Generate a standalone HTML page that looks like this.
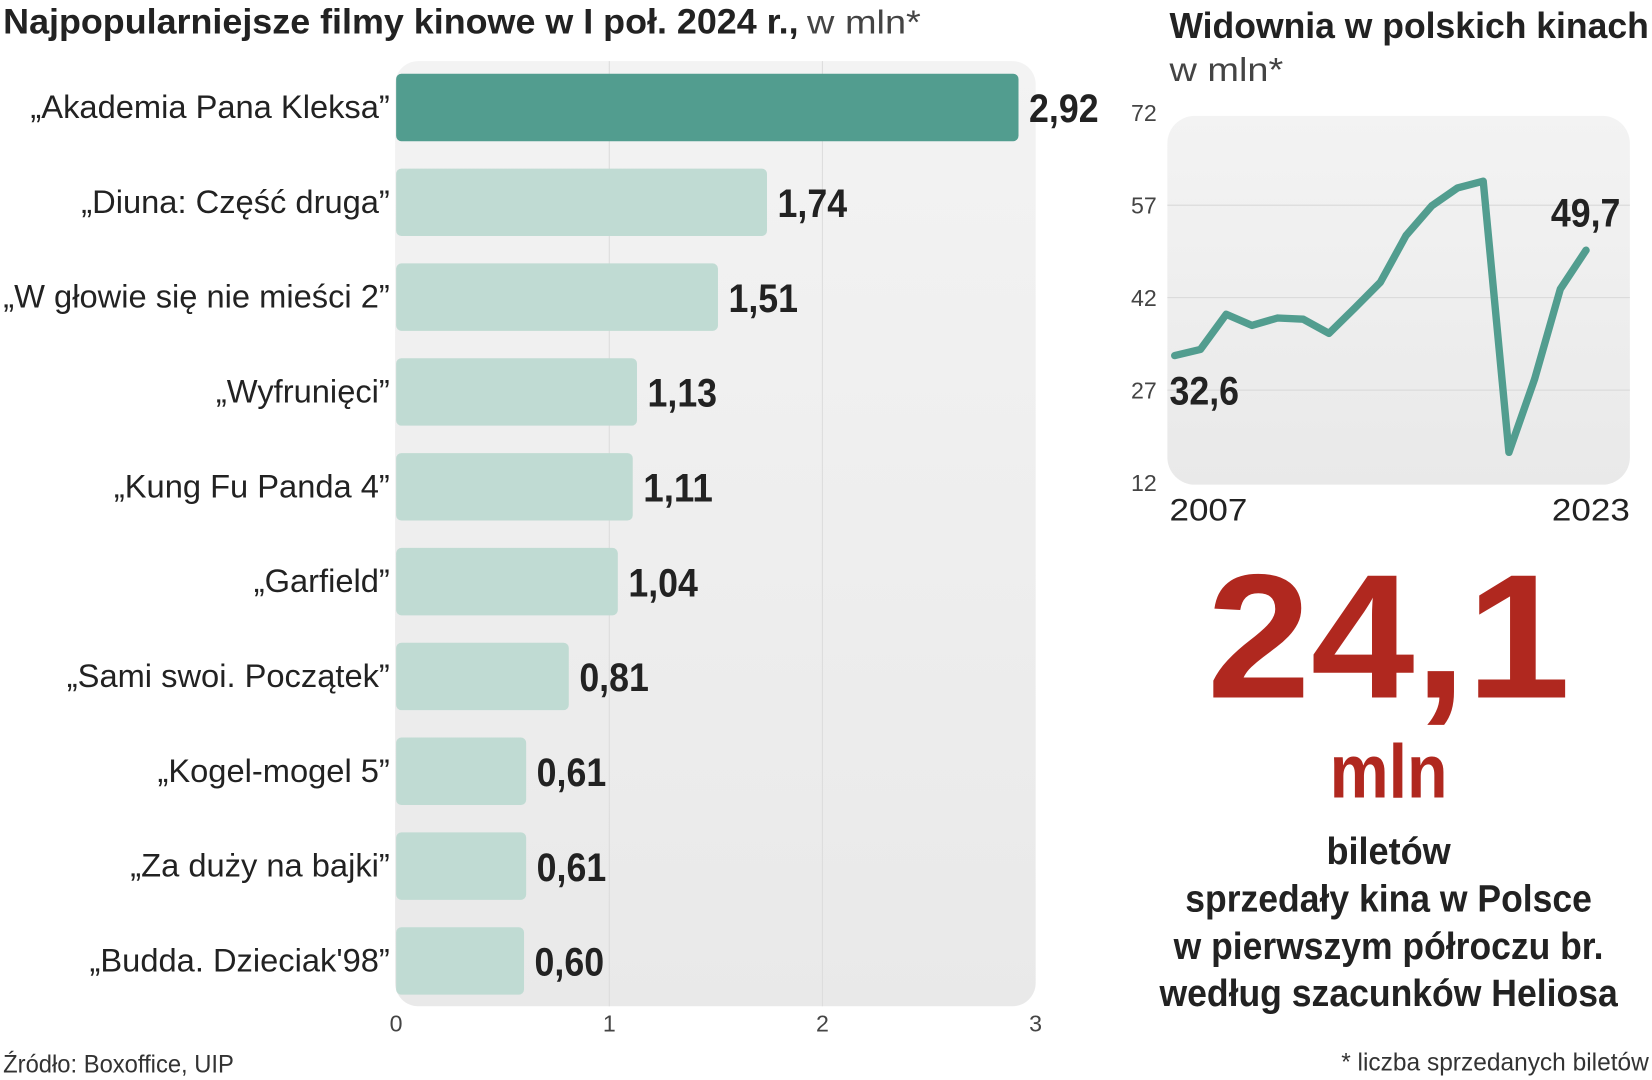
<!DOCTYPE html>
<html><head><meta charset="utf-8"><style>
html,body{margin:0;padding:0;background:#fff;}
svg{display:block;font-family:"Liberation Sans Narrow","Liberation Sans",sans-serif;}
</style></head><body>
<svg id="root" width="1652" height="1080" viewBox="0 0 1568 1025" preserveAspectRatio="none" xmlns="http://www.w3.org/2000/svg">
<defs>
<linearGradient id="bg" x1="0" y1="0" x2="0" y2="1"><stop offset="0" stop-color="#f3f3f3"/><stop offset="1" stop-color="#e9e9e9"/></linearGradient>
</defs>
<text x="3" y="32" font-size="33" font-weight="bold" fill="#222" textLength="755" lengthAdjust="spacingAndGlyphs">Najpopularniejsze filmy kinowe w I poł. 2024 r.,</text>
<text x="766" y="32" font-size="32" fill="#444" textLength="108" lengthAdjust="spacingAndGlyphs">w mln*</text>
<rect x="375" y="58" width="608" height="897" rx="22" fill="url(#bg)"/>
<g id="bars"></g>
<text x="1110" y="36" font-size="34" font-weight="bold" fill="#222" textLength="455" lengthAdjust="spacingAndGlyphs">Widownia w polskich kinach</text>
<text x="1110" y="77" font-size="32" fill="#444" textLength="108" lengthAdjust="spacingAndGlyphs">w mln*</text>
<rect x="1108" y="110" width="439" height="350" rx="26" fill="url(#bg)"/>
<g id="line"></g>
<text x="1318" y="662" font-size="168" font-weight="bold" fill="#b0281f" text-anchor="middle" textLength="345" lengthAdjust="spacingAndGlyphs">24,1</text>
<text x="1318" y="757" font-size="72" font-weight="bold" fill="#b0281f" text-anchor="middle" textLength="112" lengthAdjust="spacingAndGlyphs">mln</text>
<g font-size="36" font-weight="bold" fill="#222" text-anchor="middle">
<text x="1318" y="820" textLength="118" lengthAdjust="spacingAndGlyphs">biletów</text>
<text x="1318" y="865" textLength="386" lengthAdjust="spacingAndGlyphs">sprzedały kina w Polsce</text>
<text x="1318" y="910" textLength="408" lengthAdjust="spacingAndGlyphs">w pierwszym półroczu br.</text>
<text x="1318" y="955" textLength="435" lengthAdjust="spacingAndGlyphs">według szacunków Heliosa</text>
</g>
<text x="3" y="1018" font-size="24" fill="#333" textLength="219" lengthAdjust="spacingAndGlyphs">Źródło: Boxoffice, UIP</text>
<text x="1565" y="1016" font-size="24" fill="#333" text-anchor="end" textLength="292" lengthAdjust="spacingAndGlyphs">* liczba sprzedanych biletów</text>
</svg>
<script>
const films = ["„Akademia Pana Kleksa”","„Diuna: Część druga”","„W głowie się nie mieści 2”","„Wyfrunięci”","„Kung Fu Panda 4”","„Garfield”","„Sami swoi. Początek”","„Kogel-mogel 5”","„Za duży na bajki”","„Budda. Dzieciak'98”"];
const sales = [2.92,1.74,1.51,1.13,1.11,1.04,0.81,0.61,0.61,0.60];
const salesLabels = ["2,92","1,74","1,51","1,13","1,11","1,04","0,81","0,61","0,61","0,60"];
const xTicks = [0,1,2,3];
const years = [2007,2008,2009,2010,2011,2012,2013,2014,2015,2016,2017,2018,2019,2020,2021,2022,2023];
const audience = [32.6,33.6,39.3,37.5,38.7,38.5,36.2,40.3,44.5,52.1,56.9,59.8,60.9,16.9,28.8,43.4,49.7];
const yTicks = [12,27,42,57,72];

const NS="http://www.w3.org/2000/svg";
function mk(tag, attrs, parent){const e=document.createElementNS(NS,tag);for(const k in attrs)e.setAttribute(k,attrs[k]);parent.appendChild(e);return e;}
const bx=v=>376+v*202.3;
const by=i=>102+i*90;
const g=document.getElementById('bars');
xTicks.forEach(t=>{
  if(t>0&&t<3){const l=mk('line',{x1:bx(t),x2:bx(t),y1:58,y2:955,stroke:'#dcdcdc','stroke-width':1},g);
  
  }
  const tx=mk('text',{x:bx(t),y:979,'font-size':22,fill:'#444','text-anchor':'middle'},g);
  tx.textContent=t;
  
  
});
films.forEach((f,i)=>{
  const r=mk('rect',{x:bx(0),y:by(i)-32,width:bx(sales[i])-bx(0),height:64,rx:5,fill:i===0?'#529d8f':'#c0dbd3'},g);
  
  
  const lb=mk('text',{x:370,y:by(i)+10,'font-size':31,fill:'#222','text-anchor':'end'},g);
  lb.textContent=f;
  
  
  const vl=mk('text',{x:bx(sales[i])+10,y:by(i)+14,'font-size':38,'font-weight':'bold',fill:'#222',textLength:66,lengthAdjust:'spacingAndGlyphs'},g);
  vl.textContent=salesLabels[i];
  
  
});
const lg=document.getElementById('line');
const lx=y=>1115+(y-2007)*24.4;
const ly=v=>458-(v-12)*5.85;
yTicks.forEach(t=>{
  if(t>12&&t<72){const l=mk('line',{x1:1108,x2:1547,y1:ly(t),y2:ly(t),stroke:'#d8d8d8','stroke-width':1},lg);
  
  }
  const tx=mk('text',{x:1098,y:ly(t)+8,'font-size':22,fill:'#444','text-anchor':'end'},lg);
  tx.textContent=t;
  
  
});
const pts=years.map((y,i)=>lx(y)+','+ly(audience[i])).join(' ');
const pl=mk('polyline',{points:pts,fill:'none',stroke:'#529d8f','stroke-width':7,'stroke-linejoin':'round','stroke-linecap':'round'},lg);


const a=mk('text',{x:1110,y:384,'font-size':38,'font-weight':'bold',fill:'#222',textLength:66,lengthAdjust:'spacingAndGlyphs'},lg);
a.textContent='32,6';


const b=mk('text',{x:1472,y:215,'font-size':38,'font-weight':'bold',fill:'#222',textLength:66,lengthAdjust:'spacingAndGlyphs'},lg);
b.textContent='49,7';


const y1=mk('text',{x:1110,y:494,'font-size':30,fill:'#222',textLength:74,lengthAdjust:'spacingAndGlyphs'},lg);
y1.textContent=years[0];


const y2=mk('text',{x:1473,y:494,'font-size':30,fill:'#222',textLength:74,lengthAdjust:'spacingAndGlyphs'},lg);
y2.textContent=years[years.length-1];


</script>
</body></html>
